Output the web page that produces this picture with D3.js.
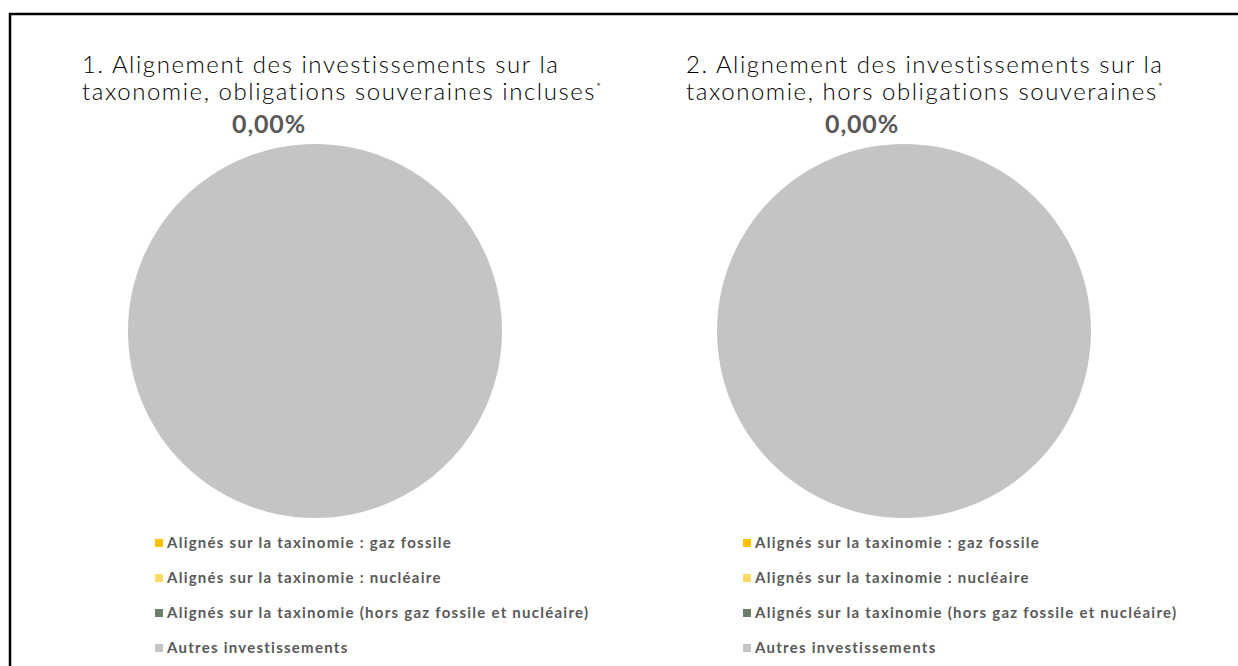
<!DOCTYPE html>
<html>
<head>
<meta charset="utf-8">
<script src="https://cdn.jsdelivr.net/npm/d3@7"></script>
<style>
  body { margin: 0; background: #fff; }
  svg { display: block; }
</style>
</head>
<body>
<div id="chart"></div>
<script>
// categories + values (percent), same for both pies
const categories = [
  "Alignés sur la taxinomie : gaz fossile",
  "Alignés sur la taxinomie : nucléaire",
  "Alignés sur la taxinomie (hors gaz fossile et nucléaire)",
  "Autres investissements"
]
const colors = ["#FFC000", "#FFD966", "#6B7F6B", "#C4C4C4"]
const valuesIncl = [0, 0, 0, 100]
const valuesHors = [0, 0, 0, 100]
const titles = [
  ["1. Alignement des investissements sur la", "taxonomie, obligations souveraines incluses"],
  ["2. Alignement des investissements sur la", "taxonomie, hors obligations souveraines"]
]
const alignedLabels = ["0,00%", "0,00%"]

const width = 1238, height = 666

const svg = d3.select("#chart").append("svg")
    .attr("width", width)
    .attr("height", height)

// frame
svg.append("rect")
    .attr("x", 10).attr("y", 14)
    .attr("width", 1300).attr("height", 700)
    .attr("fill", "none")
    .attr("stroke", "#000")
    .attr("stroke-width", 2.5)

const color = d3.scaleOrdinal().domain(categories).range(colors)

const panels = [
  {values: valuesIncl, title: titles[0], label: alignedLabels[0], cx: 315, titleX: 82, labelX: 269, legendX: 155},
  {values: valuesHors, title: titles[1], label: alignedLabels[1], cx: 904, titleX: 686, labelX: 862, legendX: 743}
]

const pie = d3.pie().sort(null).value(d => d.value)
const radius = 187
const arc = d3.arc().innerRadius(0).outerRadius(radius)

panels.forEach(function(p) {
    const g = svg.append("g")

    // title, two lines, with the little asterisk at the end
    const t = g.append("text")
        .attr("x", p.titleX)
        .attr("y", 73)
        .style("font-family", "Lato, 'Open Sans', sans-serif")
        .style("font-weight", 300)
        .style("font-size", "24px")
        .style("letter-spacing", "1.55px")
        .attr("fill", "#000")
    t.append("tspan").attr("x", p.titleX).attr("y", 73).text(p.title[0])
    t.append("tspan").attr("x", p.titleX).attr("y", 100).text(p.title[1])
    t.append("tspan").attr("dy", -9).style("font-size", "12px").text("*")

    g.append("text")
        .attr("x", p.labelX)
        .attr("y", 133)
        .attr("text-anchor", "middle")
        .style("font-family", "Lato, 'Open Sans', sans-serif")
        .style("font-weight", 700)
        .style("font-size", "25px")
        .style("letter-spacing", "0.8px")
        .attr("fill", "#595959")
        .text(p.label)

    const data = categories.map((c, i) => ({key: c, value: p.values[i]}))
    g.append("g")
        .attr("transform", "translate(" + p.cx + ",331)")
        .selectAll("path")
        .data(pie(data))
        .enter()
        .append("path")
            .attr("d", arc)
            .attr("fill", d => color(d.data.key))

    // legend
    const leg = g.selectAll(".leg")
        .data(categories)
        .enter()
        .append("g")
            .attr("transform", (d, i) => "translate(" + p.legendX + "," + (543 + i * 35) + ")")
    leg.append("rect")
        .attr("x", 0).attr("y", -4)
        .attr("width", 8).attr("height", 8)
        .attr("fill", d => color(d))
    leg.append("text")
        .attr("x", 12)
        .attr("y", 5)
        .style("font-family", "Lato, 'Open Sans', sans-serif")
        .style("font-weight", 700)
        .style("font-size", "15px")
        .style("letter-spacing", "1.25px")
        .attr("fill", "#595959")
        .text(d => d)
})
</script>
</body>
</html>
